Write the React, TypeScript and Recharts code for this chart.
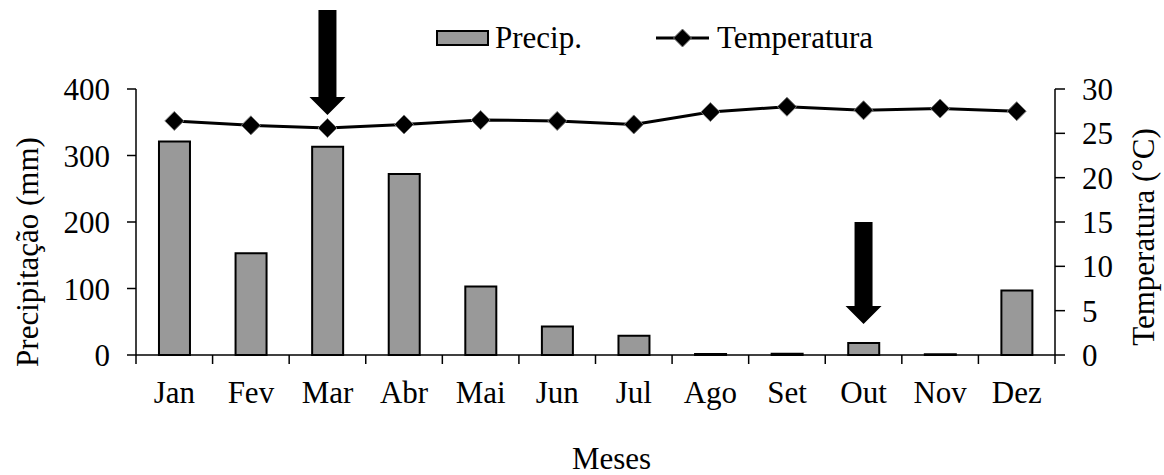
import React from 'react';
import { ComposedChart, Bar, Line, XAxis, YAxis, ReferenceDot } from 'recharts';

const months = ['Jan', 'Fev', 'Mar', 'Abr', 'Mai', 'Jun', 'Jul', 'Ago', 'Set', 'Out', 'Nov', 'Dez'];
const precip = [321, 153, 313, 272, 103, 43, 29, 1.5, 2, 18, 1, 97];
const temperatura = [26.4, 25.9, 25.6, 26.0, 26.5, 26.4, 26.0, 27.4, 28.0, 27.6, 27.8, 27.5];
const precipTicks = [0, 100, 200, 300, 400];
const tempTicks = [0, 5, 10, 15, 20, 25, 30];

const data = months.map((m, i) => ({ mes: m, precip: precip[i], temp: temperatura[i] }));

const FONT = '"Liberation Serif", "DejaVu Serif", serif';
const FS = 31;

const Diamond = (props: any) => {
  const { cx, cy } = props;
  if (cx == null || cy == null) return null;
  const r = 9.5;
  return (
    <polygon
      points={`${cx},${cy - r} ${cx + r},${cy} ${cx},${cy + r} ${cx - r},${cy}`}
      fill="#000"
      stroke="#777"
      strokeWidth={1}
    />
  );
};

// downward arrow whose tip sits on the reference point
const arrowShape = (len: number) => (props: any) => {
  const { cx, cy } = props;
  if (cx == null || cy == null) return null;
  const sw = 9;
  const hw = 18;
  const hh = 18;
  const pts = [
    [cx - sw, cy - len],
    [cx + sw, cy - len],
    [cx + sw, cy - hh],
    [cx + hw, cy - hh],
    [cx, cy],
    [cx - hw, cy - hh],
    [cx - sw, cy - hh],
  ]
    .map((p) => p.join(','))
    .join(' ');
  return <polygon points={pts} fill="#000" />;
};

const MonthTick = (props: any) => {
  const { x, payload, index } = props;
  const half = payload.offset ?? 38.3;
  const axisY = 355;
  return (
    <g>
      <line x1={x - half} y1={axisY} x2={x - half} y2={axisY + 9} stroke="#000" strokeWidth={1.5} />
      {index === months.length - 1 && (
        <line x1={x + half} y1={axisY} x2={x + half} y2={axisY + 9} stroke="#000" strokeWidth={1.5} />
      )}
      <text x={x} y={403} textAnchor="middle" style={{ fontSize: FS, fontFamily: FONT }} fill="#000">
        {payload.value}
      </text>
    </g>
  );
};

const titleStyle: React.CSSProperties = {
  position: 'absolute',
  fontFamily: FONT,
  fontSize: FS,
  color: '#000',
  whiteSpace: 'nowrap',
  transform: 'translate(-50%, -50%) rotate(-90deg)',
  lineHeight: 1,
};

export default function App() {
  return (
    <div style={{ position: 'absolute', left: 0, top: 0, width: 1164, height: 475, background: '#fff' }}>
      <div
        style={{
          position: 'absolute',
          top: 20,
          left: 436,
          display: 'flex',
          alignItems: 'center',
          fontFamily: FONT,
          fontSize: FS,
          color: '#000',
          zIndex: 2,
        }}
      >
        <svg width={53} height={16} style={{ marginRight: 6 }}>
          <rect x={1} y={1} width={51} height={14} fill="#999" stroke="#000" strokeWidth={2} />
        </svg>
        <span>Precip.</span>
        <svg width={53} height={22} style={{ marginLeft: 74, marginRight: 8 }}>
          <line x1={0} y1={11} x2={53} y2={11} stroke="#000" strokeWidth={3} />
          <polygon points="26.5,2 35.5,11 26.5,20 17.5,11" fill="#000" stroke="#777" strokeWidth={1} />
        </svg>
        <span>Temperatura</span>
      </div>
      <div style={{ ...titleStyle, left: 27, top: 252 }}>Precipitação (mm)</div>
      <div style={{ ...titleStyle, left: 1143, top: 237 }}>Temperatura (°C)</div>
      <ComposedChart
        width={1164}
        height={475}
        data={data}
        margin={{ top: 89, right: 0, left: 0, bottom: 0 }}
        barCategoryGap="30%"
      >
        <XAxis
          dataKey="mes"
          height={120}
          axisLine={{ stroke: '#000', strokeWidth: 1.5 }}
          tickLine={false}
          tick={<MonthTick />}
          interval={0}
          label={{
            value: 'Meses',
            position: 'insideBottom',
            offset: 6,
            dx: 16,
            fontSize: FS,
            fontFamily: FONT,
            fill: '#000',
          }}
        />
        <YAxis
          yAxisId="left"
          width={136}
          domain={[0, 400]}
          ticks={precipTicks}
          axisLine={{ stroke: '#000', strokeWidth: 1.5 }}
          tickLine={{ stroke: '#000', strokeWidth: 1.5 }}
          tickSize={9}
          tickMargin={17}
          tick={{ fontSize: FS, fontFamily: FONT, fill: '#000' }}
        />
        <YAxis
          yAxisId="right"
          orientation="right"
          width={109}
          domain={[0, 30]}
          ticks={tempTicks}
          axisLine={{ stroke: '#000', strokeWidth: 1.5 }}
          tickLine={{ stroke: '#000', strokeWidth: 1.5 }}
          tickSize={10}
          tickMargin={17}
          tick={{ fontSize: FS, fontFamily: FONT, fill: '#000' }}
        />
        <Bar yAxisId="left" dataKey="precip" fill="#999" stroke="#000" strokeWidth={2} isAnimationActive={false} />
        <Line
          yAxisId="right"
          dataKey="temp"
          stroke="#000"
          strokeWidth={3}
          dot={<Diamond />}
          activeDot={false}
          isAnimationActive={false}
          type="linear"
        />
        <ReferenceDot yAxisId="left" x="Mar" y={361} ifOverflow="visible" shape={arrowShape(105)} />
        <ReferenceDot yAxisId="left" x="Out" y={46.5} ifOverflow="visible" shape={arrowShape(102)} />
      </ComposedChart>
    </div>
  );
}
